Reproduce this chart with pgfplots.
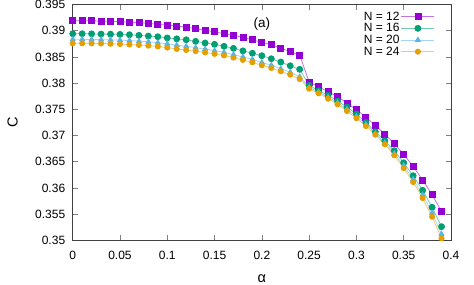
\documentclass[border=0pt]{standalone}
\usepackage{pgfplots}
\pgfplotsset{compat=1.18}
\usepackage{fontspec}
\setmainfont{Liberation Sans}
\definecolor{cP}{HTML}{9400D3}
\definecolor{cG}{HTML}{009E73}
\definecolor{cB}{HTML}{56B4E9}
\definecolor{cO}{HTML}{E69F00}
\begin{document}
\begin{tikzpicture}
\useasboundingbox (-72.7bp,-44.7bp) rectangle (401.3bp,240.3bp);
\begin{axis}[
  scale only axis, width=378.3bp, height=235.8bp,
  xmin=0, xmax=0.4, ymin=0.35, ymax=0.395,
  xtick={0,0.05,...,0.4}, ytick={0.35,0.355,...,0.396},
  scaled x ticks=false, scaled y ticks=false,
  /pgf/number format/.cd, fixed, precision=3, assume math mode=true, /pgfplots/.cd,
  xticklabels={0,0.05,0.1,0.15,0.2,0.25,0.3,0.35,0.4},
  yticklabels={0.35,0.355,0.36,0.365,0.37,0.375,0.38,0.385,0.39,0.395},
  tick label style={font=\fontsize{12bp}{14bp}\selectfont},
  xticklabel style={yshift=-7bp},
  yticklabel style={xshift=-4bp},
  axis line style={black!75, line width=0.8bp},
  tick style={black!50, line width=0.6bp},
  major tick length=5bp,
  xlabel={α}, ylabel={C},
  label style={font=\fontsize{14.5bp}{16bp}\selectfont},
  xlabel style={at={(axis description cs:0.5,0)}, anchor=base, yshift=-41.7bp},
  ylabel style={at={(axis description cs:-0.1586,0.5)}, anchor=center},
  clip=false,
  legend cell align=right,
  legend plot pos=right,
  legend style={draw=none, fill=none, at={(0.9656,0.985)}, anchor=north east,
    font=\fontsize{12bp}{14bp}\selectfont, row sep=-1.2bp,
    nodes={inner sep=1.5bp}},
  legend image code/.code={\draw[mark repeat=2,mark phase=2] plot coordinates {(0bp,0bp)(16.5bp,0bp)(33bp,0bp)};},
]
\addplot[draw=cP!55, line width=0.8bp, mark=square*, mark size=3bp, mark options={draw=cP, fill=cP, solid}] coordinates {
(0.00,0.39190)(0.01,0.39190)(0.02,0.39190)(0.03,0.39184)(0.04,0.39179)(0.05,0.39171)(0.06,0.39165)(0.07,0.39152)(0.08,0.39140)(0.09,0.39121)
(0.10,0.39108)(0.11,0.39089)(0.12,0.39070)(0.13,0.39037)(0.14,0.39007)(0.15,0.38980)(0.16,0.38942)(0.17,0.38911)(0.18,0.38873)(0.19,0.38825)
(0.20,0.38778)(0.21,0.38732)(0.22,0.38669)(0.23,0.38598)(0.24,0.38535)(0.25,0.38020)(0.26,0.37930)(0.27,0.37835)(0.28,0.37740)(0.29,0.37620)
(0.30,0.37490)(0.31,0.37350)(0.32,0.37190)(0.33,0.37030)(0.34,0.36840)(0.35,0.36640)(0.36,0.36410)(0.37,0.36150)(0.38,0.35870)(0.39,0.35550)};
\addlegendentry{N = 12}
\addplot[draw=cG!55, line width=0.8bp, mark=*, mark size=3bp, mark options={draw=cG, fill=cG, solid}] coordinates {
(0.00,0.38942)(0.01,0.38942)(0.02,0.38940)(0.03,0.38936)(0.04,0.38934)(0.05,0.38930)(0.06,0.38923)(0.07,0.38911)(0.08,0.38898)(0.09,0.38885)
(0.10,0.38862)(0.11,0.38845)(0.12,0.38827)(0.13,0.38797)(0.14,0.38765)(0.15,0.38740)(0.16,0.38702)(0.17,0.38663)(0.18,0.38615)(0.19,0.38570)
(0.20,0.38522)(0.21,0.38465)(0.22,0.38402)(0.23,0.38331)(0.24,0.38263)(0.25,0.37957)(0.26,0.37854)(0.27,0.37767)(0.28,0.37658)(0.29,0.37543)
(0.30,0.37410)(0.31,0.37250)(0.32,0.37072)(0.33,0.36900)(0.34,0.36710)(0.35,0.36480)(0.36,0.36233)(0.37,0.35954)(0.38,0.35630)(0.39,0.35260)};
\addlegendentry{N = 16}
\addplot[draw=cB!55, line width=0.8bp, mark=triangle*, mark size=2.8bp, mark options={draw=cB, fill=cB, solid}] coordinates {
(0.00,0.38835)(0.01,0.38835)(0.02,0.38833)(0.03,0.38830)(0.04,0.38826)(0.05,0.38820)(0.06,0.38812)(0.07,0.38800)(0.08,0.38788)(0.09,0.38772)
(0.10,0.38750)(0.11,0.38725)(0.12,0.38702)(0.13,0.38677)(0.14,0.38650)(0.15,0.38620)(0.16,0.38588)(0.17,0.38545)(0.18,0.38500)(0.19,0.38452)
(0.20,0.38395)(0.21,0.38340)(0.22,0.38275)(0.23,0.38208)(0.24,0.38120)(0.25,0.37920)(0.26,0.37830)(0.27,0.37730)(0.28,0.37625)(0.29,0.37500)
(0.30,0.37365)(0.31,0.37212)(0.32,0.37040)(0.33,0.36862)(0.34,0.36660)(0.35,0.36425)(0.36,0.36165)(0.37,0.35870)(0.38,0.35525)(0.39,0.35120)};
\addlegendentry{N = 20}
\addplot[draw=cO!55, line width=0.8bp, mark=*, mark size=2.6bp, mark options={draw=cO, fill=cO, solid}] coordinates {
(0.00,0.38759)(0.01,0.38759)(0.02,0.38758)(0.03,0.38755)(0.04,0.38751)(0.05,0.38745)(0.06,0.38736)(0.07,0.38727)(0.08,0.38715)(0.09,0.38700)
(0.10,0.38678)(0.11,0.38652)(0.12,0.38631)(0.13,0.38610)(0.14,0.38585)(0.15,0.38558)(0.16,0.38528)(0.17,0.38486)(0.18,0.38442)(0.19,0.38396)
(0.20,0.38340)(0.21,0.38288)(0.22,0.38224)(0.23,0.38160)(0.24,0.38078)(0.25,0.37893)(0.26,0.37805)(0.27,0.37702)(0.28,0.37595)(0.29,0.37467)
(0.30,0.37330)(0.31,0.37180)(0.32,0.37015)(0.33,0.36832)(0.34,0.36622)(0.35,0.36379)(0.36,0.36112)(0.37,0.35807)(0.38,0.35450)(0.39,0.35038)};
\addlegendentry{N = 24}
\node[font=\fontsize{13.5bp}{15bp}\selectfont] at (axis cs:0.2,0.39137) {(a)};
\end{axis}
\end{tikzpicture}
\end{document}
